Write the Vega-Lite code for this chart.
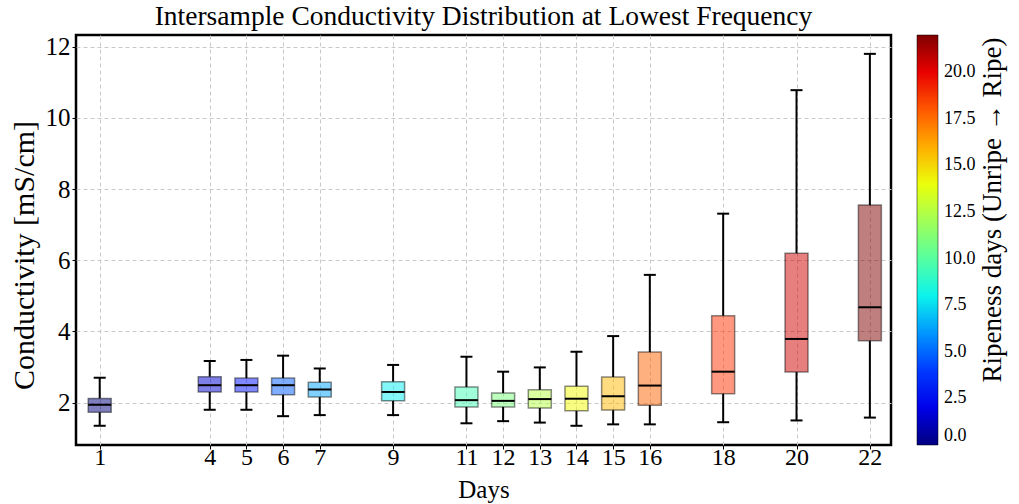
{
  "$schema": "https://vega.github.io/schema/vega-lite/v6.json",
  "autosize": "none",
  "padding": {"left": 76, "top": 35, "right": 128, "bottom": 59},
  "width": 815,
  "height": 410,
  "background": "white",
  "config": {
    "font": "Liberation Serif",
    "view": {"stroke": "black", "strokeWidth": 2.5},
    "style": {
      "guide-label": {"font": "Liberation Serif"},
      "guide-title": {"font": "Liberation Serif"}
    },
    "axis": {
      "labelFont": "Liberation Serif",
      "titleFont": "Liberation Serif",
      "labelColor": "black",
      "titleColor": "black",
      "titleFontWeight": "normal",
      "domain": false,
      "tickColor": "black",
      "tickSize": 4,
      "tickWidth": 1,
      "gridColor": "#c8c8c8",
      "gridDash": [4, 3],
      "gridWidth": 1
    },
    "legend": {
      "labelFont": "Liberation Serif",
      "titleFont": "Liberation Serif"
    }
  },
  "title": {
    "text": "Intersample Conductivity Distribution at Lowest Frequency",
    "font": "Liberation Serif",
    "fontSize": 27.5,
    "fontWeight": "normal",
    "color": "black",
    "offset": 4
  },
  "data": {
    "values": [
      {"day": 1, "low": 1.35, "q1": 1.73, "median": 1.94, "q3": 2.12, "high": 2.70},
      {"day": 4, "low": 1.80, "q1": 2.30, "median": 2.49, "q3": 2.73, "high": 3.17},
      {"day": 5, "low": 1.80, "q1": 2.30, "median": 2.49, "q3": 2.69, "high": 3.20},
      {"day": 6, "low": 1.62, "q1": 2.22, "median": 2.49, "q3": 2.69, "high": 3.32},
      {"day": 7, "low": 1.65, "q1": 2.16, "median": 2.37, "q3": 2.57, "high": 2.96},
      {"day": 9, "low": 1.65, "q1": 2.05, "median": 2.30, "q3": 2.59, "high": 3.06},
      {"day": 11, "low": 1.42, "q1": 1.88, "median": 2.07, "q3": 2.44, "high": 3.29},
      {"day": 12, "low": 1.48, "q1": 1.88, "median": 2.05, "q3": 2.27, "high": 2.87},
      {"day": 13, "low": 1.44, "q1": 1.85, "median": 2.10, "q3": 2.36, "high": 2.99},
      {"day": 14, "low": 1.35, "q1": 1.77, "median": 2.11, "q3": 2.46, "high": 3.43},
      {"day": 15, "low": 1.39, "q1": 1.79, "median": 2.18, "q3": 2.72, "high": 3.87},
      {"day": 16, "low": 1.39, "q1": 1.93, "median": 2.48, "q3": 3.42, "high": 5.59},
      {"day": 18, "low": 1.45, "q1": 2.25, "median": 2.87, "q3": 4.44, "high": 7.31},
      {"day": 20, "low": 1.50, "q1": 2.86, "median": 3.79, "q3": 6.20, "high": 10.78},
      {"day": 22, "low": 1.58, "q1": 3.74, "median": 4.68, "q3": 7.55, "high": 11.80}
    ]
  },
  "encoding": {
    "x": {
      "field": "day",
      "type": "quantitative",
      "scale": {"domain": [0.49, 22.44], "nice": false, "zero": false},
      "axis": {
        "title": "Days",
        "values": [1, 4, 5, 6, 7, 9, 11, 12, 13, 14, 15, 16, 18, 20, 22],
        "labelFontSize": 24,
        "titleFontSize": 25,
        "labelPadding": -4,
        "titlePadding": 8,
        "labelFlush": false
      }
    }
  },
  "layer": [
    {
      "mark": {"type": "rule", "color": "black", "strokeWidth": 2},
      "encoding": {
        "y": {
          "field": "low",
          "type": "quantitative",
          "scale": {"domain": [0.81, 12.33], "nice": false, "zero": false},
          "axis": {
            "title": "Conductivity [mS/cm]",
            "values": [2, 4, 6, 8, 10, 12],
            "labelFontSize": 25,
            "titleFontSize": 30,
            "labelPadding": 2,
            "titlePadding": 6,
            "titleY": 220,
            "labelFlush": false
          }
        },
        "y2": {"field": "q1"}
      }
    },
    {
      "mark": {"type": "rule", "color": "black", "strokeWidth": 2},
      "encoding": {
        "y": {"field": "q3", "type": "quantitative"},
        "y2": {"field": "high"}
      }
    },
    {
      "mark": {"type": "bar", "size": 23, "fillOpacity": 0.5, "stroke": "black", "strokeOpacity": 0.45, "strokeWidth": 1.5},
      "encoding": {
        "y": {"field": "q1", "type": "quantitative"},
        "y2": {"field": "q3"},
        "fill": {
          "field": "day",
          "type": "ordinal",
          "scale": {
            "domain": [1, 4, 5, 6, 7, 9, 11, 12, 13, 14, 15, 16, 18, 20, 22],
            "range": ["#000080", "#0000D2", "#0012FF", "#005BFF", "#00A4FF", "#06EDF1", "#41FFB6", "#7BFF7B", "#B6FF41", "#F1FC06", "#FFB900", "#FF6200", "#FF3200", "#D20000", "#800000"]
          },
          "legend": null
        }
      }
    },
    {
      "mark": {"type": "tick", "orient": "horizontal", "size": 23, "thickness": 2, "color": "black", "opacity": 1},
      "encoding": {"y": {"field": "median", "type": "quantitative"}}
    },
    {
      "mark": {"type": "tick", "orient": "horizontal", "size": 12, "thickness": 2, "color": "black", "opacity": 1},
      "encoding": {"y": {"field": "low", "type": "quantitative"}}
    },
    {
      "mark": {"type": "tick", "orient": "horizontal", "size": 12, "thickness": 2, "color": "black", "opacity": 1},
      "encoding": {"y": {"field": "high", "type": "quantitative"}}
    },
    {
      "mark": {"type": "point", "opacity": 0, "filled": false},
      "encoding": {
        "y": {"field": "median", "type": "quantitative"},
        "stroke": {
          "field": "day",
          "type": "quantitative",
          "scale": {
            "domain": [0, 2.42, 2.75, 7.48, 7.7, 8.25, 11, 14.08, 14.3, 14.52, 19.58, 20.02, 22],
            "range": ["#000080", "#0000FF", "#0000FF", "#00DBFF", "#00E5F7", "#14FFE2", "#7BFF7B", "#EEFF08", "#F7F500", "#FFEC00", "#FF1300", "#E80000", "#800000"],
            "interpolate": "rgb"
          },
          "legend": {
            "type": "gradient",
            "orient": "none",
            "legendX": 841,
            "legendY": 0,
            "direction": "vertical",
            "gradientLength": 410,
            "gradientThickness": 21,
            "gradientStrokeColor": "black",
            "gradientStrokeWidth": 0.5,
            "values": [0, 2.5, 5, 7.5, 10, 12.5, 15, 17.5, 20],
            "format": ".1f",
            "labelFont": "Liberation Serif",
            "labelFontSize": 18,
            "labelColor": "black",
            "labelOffset": 6,
            "title": "Ripeness days (Unripe → Ripe)",
            "titleFont": "Liberation Serif",
            "titleOrient": "right",
            "titleFontSize": 27,
            "titleFontWeight": "normal",
            "titleColor": "black",
            "titleAnchor": "middle",
            "titleLimit": 800,
            "titlePadding": 4,
            "encode": {
              "gradient": {"update": {"opacity": {"value": 1}}},
              "labels": {"enter": {"font": {"value": "Liberation Serif"}}, "update": {"opacity": {"value": 1}, "font": {"value": "Liberation Serif"}, "fontSize": {"value": 18}}},
              "title": {"update": {"angle": {"value": 270}, "baseline": {"value": "top"}, "dx": {"value": 30}, "font": {"value": "Liberation Serif"}}}
            }
          }
        }
      }
    }
  ]
}
